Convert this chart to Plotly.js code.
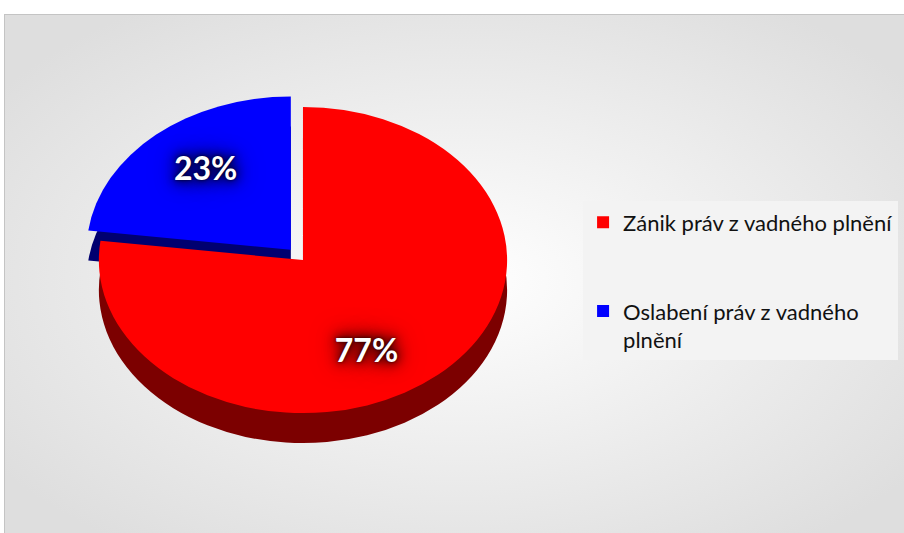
<!DOCTYPE html>
<html><head><meta charset="utf-8">
<script src="https://cdn.plot.ly/plotly-3.0.1.min.js"></script>
<style>
html,body{margin:0;padding:0;background:#fff;overflow:hidden;}
#frame{position:absolute;left:4px;top:14px;width:910px;height:530px;border:1px solid #c4c4c4;
  background:radial-gradient(ellipse 62% 62% at 50% 50%, #ffffff 0%, #f5f5f5 30%, #dedede 100%);}
#chart{position:absolute;left:0;top:0;width:904px;height:533px;}
</style></head><body>
<div id="frame"></div><div id="chart"></div>
<script>
const categories = ['Zánik práv z vadného plnění', 'Oslabení práv z vadného plnění'];
const legendLabels = ['Zánik práv z vadného plnění<br> <br> ', 'Oslabení práv z vadného<br>plnění'];
const shares = [77, 23];
const faceColors = ['#ff0000', '#0000ff'];
const sideColors = ['#7c0000', '#000070'];
const pulls = [0, 0.09];

const side = {
  type: 'pie', labels: legendLabels, values: shares, sort: false,
  direction: 'clockwise', rotation: 0, pull: pulls,
  marker: {colors: sideColors, line: {width: 0}},
  textinfo: 'none', showlegend: false, hoverinfo: 'skip',
  domain: {x: [0.0890, 0.5813], y: [0.0385, 0.8734]}
};
const face = {
  type: 'pie', labels: legendLabels, values: shares, sort: false,
  hovertext: categories,
  direction: 'clockwise', rotation: 0, pull: pulls,
  marker: {colors: faceColors, line: {width: 0}},
  textinfo: 'percent', textposition: 'inside', insidetextorientation: 'horizontal',
  insidetextfont: {family: 'Lato', size: 32, color: '#ffffff', weight: 'bold',
    shadow: '0 0 3px rgba(0,0,0,0.7), 0 0 8px rgba(0,0,0,0.7), 0 0 14px rgba(0,0,0,0.7), 0 0 20px rgba(0,0,0,0.6), 0 0 28px rgba(0,0,0,0.5)'},
  domain: {x: [0.0890, 0.5813], y: [0.0947, 0.9296]}
};
const layout = {
  width: 904, height: 533,
  margin: {l: 0, r: 0, t: 0, b: 0},
  paper_bgcolor: 'rgba(0,0,0,0)', plot_bgcolor: 'rgba(0,0,0,0)',
  showlegend: true,
  legend: {x: 0.645, y: 0.622, xanchor: 'left', yanchor: 'top', bgcolor: '#f3f3f3',
    valign: 'top', traceorder: 'normal',
    font: {family: 'Lato', size: 22, color: '#111111'}}
};
Plotly.newPlot('chart', [side, face], layout, {staticPlot: true}).then(gd => {
  const s = 0.75;
  const traces = gd.querySelectorAll('.pielayer .trace');
  traces.forEach((g, k) => {
    const cy = gd.calcdata[k][0].cy;
    g.querySelectorAll('path.surface').forEach(p =>
      p.setAttribute('transform', 'translate(0,' + (cy * (1 - s)) + ') scale(1,' + s + ')'));
    g.querySelectorAll('g.slicetext').forEach(t =>
      t.setAttribute('transform', 'translate(-4,13) ' + (t.getAttribute('transform') || '')));
  });
});
</script>
</body></html>
